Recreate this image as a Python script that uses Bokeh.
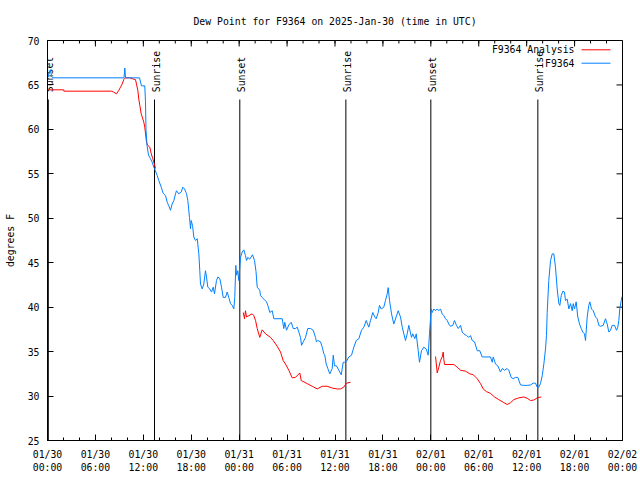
import math
import numpy as np
from bokeh.plotting import figure
from bokeh.models import Range1d, FixedTicker, Label
from bokeh.core.properties import value
from bokeh.embed import file_html
from bokeh.resources import INLINE

# ---------------- data ----------------
title_text = "Dew Point for F9364 on 2025-Jan-30 (time in UTC)"
y_axis_label = "degrees F"

x_ticks = [0, 6, 12, 18, 24, 30, 36, 42, 48, 54, 60, 66, 72]   # hours since 01/30 00:00 UTC
x_tick_labels = ["01/30\n00:00", "01/30\n06:00", "01/30\n12:00", "01/30\n18:00",
                 "01/31\n00:00", "01/31\n06:00", "01/31\n12:00", "01/31\n18:00",
                 "02/01\n00:00", "02/01\n06:00", "02/01\n12:00", "02/01\n18:00",
                 "02/02\n00:00"]
x_minor_ticks = list(range(0, 73, 2))
y_ticks = [25, 30, 35, 40, 45, 50, 55, 60, 65, 70]

event_names = ["Sunset", "Sunrise", "Sunset", "Sunrise", "Sunset", "Sunrise"]
event_hours = [0.1, 13.40, 24.08, 37.36, 48.0, 61.40]

series_names = ["F9364 Analysis", "F9364"]

# observed dew point (hours, degF)
obs_hours = [0.0, 0.19, 0.38, 0.50, 0.63, 9.58, 9.68, 9.77, 11.52, 11.77,
             12.18, 12.27, 12.33, 12.46, 12.65, 12.90, 13.11, 13.31, 13.40, 13.74,
             13.94, 14.24, 14.49, 14.78, 14.99, 15.19, 15.40, 15.61, 15.82, 16.03,
             16.15, 16.44, 16.74, 16.94, 17.16, 17.41, 17.57, 17.78, 17.91, 17.99,
             18.16, 18.32, 18.53, 18.75, 18.95, 19.07, 19.16, 19.37, 19.57, 19.78,
             19.91, 20.07, 20.32, 20.54, 20.75, 20.91, 21.16, 21.33, 21.58, 21.79,
             22.00, 22.29, 22.50, 22.70, 22.92, 23.13, 23.33, 23.45, 23.58, 23.67,
             23.83, 23.95, 24.08, 24.17, 24.38, 24.58, 24.79, 24.92, 25.08, 25.33,
             25.67, 25.92, 26.11, 26.26, 26.58, 26.67, 26.88, 27.09, 27.42, 27.59,
             27.84, 28.14, 28.34, 29.39, 29.59, 29.71, 29.93, 30.22, 30.52, 30.77,
             31.05, 31.27, 31.47, 31.68, 31.81, 32.02, 32.31, 32.59, 32.93, 33.27,
             33.56, 33.68, 33.85, 34.19, 34.40, 34.60, 34.72, 34.90, 35.10, 35.35,
             35.65, 35.78, 35.94, 36.19, 36.48, 36.78, 37.03, 37.19, 37.44, 37.73,
             38.07, 38.36, 38.66, 38.98, 39.32, 39.61, 39.91, 40.23, 40.45, 40.73,
             40.98, 41.16, 41.41, 41.57, 41.79, 42.11, 42.32, 42.54, 42.66, 42.83,
             43.08, 43.36, 43.66, 43.91, 44.20, 44.42, 44.62, 44.83, 45.04, 45.24,
             45.58, 45.74, 45.99, 46.17, 46.42, 46.58, 46.83, 47.12, 47.42, 47.67,
             47.83, 48.05, 48.17, 48.37, 48.59, 48.80, 49.00, 49.21, 49.42, 49.62,
             49.84, 50.05, 50.25, 50.46, 50.75, 50.96, 51.21, 51.43, 51.72, 51.93,
             52.13, 52.47, 52.76, 52.97, 53.18, 53.47, 53.81, 54.13, 54.43, 55.47,
             55.69, 55.81, 56.10, 56.39, 56.72, 56.94, 57.22, 57.56, 57.76, 58.06,
             58.31, 58.60, 58.89, 59.23, 59.64, 60.07, 60.48, 60.82, 61.11, 61.32,
             61.52, 61.73, 61.95, 62.15, 62.36, 62.48, 62.57, 62.77, 62.99, 63.20,
             63.40, 63.61, 63.82, 64.03, 64.15, 64.33, 64.53, 64.74, 64.86, 65.08,
             65.28, 65.49, 65.70, 65.83, 65.99, 66.20, 66.40, 66.62, 66.83, 67.03,
             67.24, 67.37, 67.58, 67.78, 67.91, 68.12, 68.33, 68.62, 68.83, 69.03,
             69.25, 69.58, 69.87, 70.08, 70.29, 70.50, 70.71, 71.00, 71.25, 71.41,
             71.54, 71.66, 71.84, 71.94]
obs_dewpt = [65.8, 66.3, 66.7, 66.0, 65.8, 65.8, 66.9, 65.8, 65.8, 64.9,
             64.9, 63.1, 60.0, 58.2, 57.1, 56.7, 56.3, 55.75, 55.6, 54.8,
             54.25, 53.5, 52.8, 52.55, 51.8, 51.4, 50.9, 51.6, 52.0, 52.75,
             53.1, 52.75, 52.95, 53.5, 53.3, 52.75, 52.0, 50.1, 48.8, 49.75,
             49.2, 47.9, 47.5, 47.7, 46.0, 44.1, 42.6, 42.05, 42.6, 44.1,
             43.4, 42.25, 42.05, 41.7, 42.25, 41.5, 43.0, 43.4, 43.2, 42.25,
             41.1, 41.1, 41.7, 41.1, 40.4, 40.2, 39.8, 41.1, 44.7, 43.6,
             44.1, 43.0, 44.5, 45.6, 46.2, 46.45, 45.8, 45.25, 45.6, 45.4,
             45.9, 45.25, 44.0, 42.25, 41.9, 41.3, 41.1, 40.9, 40.6, 40.2,
             39.4, 39.6, 38.7, 38.7, 37.6, 38.3, 37.4, 38.0, 38.3, 37.6,
             37.6, 37.75, 37.2, 36.6, 35.7, 36.1, 36.6, 37.6, 37.6, 37.4,
             36.6, 36.1, 36.25, 36.1, 35.5, 34.75, 34.6, 33.6, 33.1, 32.5,
             33.1, 34.6, 33.4, 33.4, 32.9, 32.4, 33.8, 33.8, 33.9, 34.4,
             34.6, 35.5, 36.25, 36.45, 37.4, 37.75, 38.5, 37.75, 38.5, 39.4,
             38.9, 38.7, 39.4, 40.2, 39.8, 40.0, 40.75, 41.5, 42.2, 40.75,
             39.25, 38.1, 38.9, 39.6, 38.9, 37.75, 37.0, 36.25, 37.0, 37.95,
             36.6, 37.0, 36.45, 37.0, 35.1, 33.8, 35.1, 35.5, 35.3, 34.6,
             37.0, 39.8, 39.4, 39.8, 39.6, 39.8, 39.6, 39.8, 39.25, 39.05,
             38.7, 38.5, 38.1, 37.85, 37.95, 38.5, 37.95, 37.6, 37.95, 37.2,
             37.0, 36.8, 36.6, 36.8, 36.25, 36.1, 35.1, 35.1, 34.4, 34.4,
             33.8, 34.4, 33.6, 33.4, 32.7, 33.1, 32.9, 33.1, 32.9, 32.1,
             31.95, 32.1, 32.1, 31.25, 31.2, 31.2, 31.25, 31.45, 31.45, 31.0,
             31.0, 31.4, 32.3, 33.6, 35.3, 36.8, 39.4, 43.0, 45.25, 46.0,
             46.0, 44.5, 42.05, 40.4, 40.2, 41.3, 41.8, 41.7, 40.75, 40.9,
             39.8, 40.4, 39.6, 40.4, 39.8, 40.6, 38.9, 38.1, 37.6, 37.2,
             37.0, 36.25, 38.9, 40.2, 40.6, 39.8, 39.6, 38.9, 38.7, 37.95,
             37.85, 37.95, 38.7, 38.1, 37.2, 37.4, 37.95, 37.95, 37.4, 37.75,
             38.5, 39.8, 40.75, 41.2]

NAN = float("nan")
# analysis dew point (hours, degF); NaN marks gaps in the analysis
ana_hours = [0.16, 2.04, 2.05, 8.01, 8.26, 8.64, 8.93, 9.14, 9.35, 9.55,
             9.77, 10.31, 10.61, 11.02, 11.14, 11.31, 11.43, 11.56, 11.73, 11.86,
             12.06, 12.18, 12.40, 12.56, 12.81, 12.99, 13.19, 13.31, 13.44, 13.52,
             NAN,
             24.51, 24.67, 24.79, 24.92, 25.21, 25.63, 25.83, 26.05, 26.26, 26.58,
             26.88, 27.30, 27.92, 28.26, 28.76, 29.18, 29.51, 29.80, 30.22, 30.64,
             31.05, 31.59, 31.77, 32.52, 33.15, 33.77, 34.40, 35.02, 35.65, 36.28,
             36.69, 37.10, 37.44, 37.94,
             NAN,
             48.59, 48.80, 49.00, 49.21, 49.42, 49.55, 49.62, 49.71, 50.88, 51.30,
             51.72, 52.34, 52.88, 53.31, 53.81, 54.22, 54.56, 54.97, 55.47, 55.97,
             56.51, 57.06, 57.56, 57.98, 58.39, 59.02, 59.64, 60.07, 60.48, 60.89,
             61.32, 61.82]
ana_dewpt = [64.45, 64.45, 64.3, 64.3, 64.2, 64.0, 64.4, 64.75, 65.1, 65.6,
             65.8, 65.8, 65.7, 65.6, 65.1, 64.4, 63.4, 62.7, 61.75, 61.4,
             60.8, 60.25, 58.55, 58.2, 58.0, 57.25, 56.7, 56.3, 55.9, 55.6,
             NAN,
             39.4, 38.7, 39.6, 38.9, 39.05, 39.25, 39.05, 38.5, 37.6, 36.6,
             37.45, 37.0, 36.6, 36.25, 35.6, 34.95, 34.0, 33.6, 32.9, 32.05,
             32.1, 32.6, 31.75, 31.4, 31.1, 30.8, 31.1, 31.1, 30.9, 30.8,
             30.8, 31.0, 31.45, 31.55,
             NAN,
             34.45, 32.6, 33.25, 34.0, 34.4, 34.95, 34.2, 33.55, 33.55, 33.25,
             32.9, 32.8, 32.5, 32.4, 31.95, 31.4, 30.8, 30.5, 30.3, 29.9,
             29.6, 29.3, 29.05, 29.25, 29.6, 29.8, 29.9, 29.75, 29.5, 29.55,
             29.8, 29.9]

# ---------------- styling / layout ----------------
FONT = "DejaVu Sans Mono"
FS = "9.8px"
RED = "#ff0000"
BLUE = "#0080ff"
X0, X1 = 0, 72
Y0, Y1 = 25, 70
W, H = 640, 480
ML, MR, MT, MB = 47, 18, 40, 40
FW, FH = W - ML - MR, H - MT - MB
TICK_MAJOR, TICK_MINOR = 6, 3


def px_x(px):
    return X0 + (px - ML) * (X1 - X0) / FW


def px_y(py):
    return Y1 - (py - MT) * (Y1 - Y0) / FH


p = figure(width=W, height=H, output_backend="svg", toolbar_location=None,
           x_range=Range1d(X0, X1), y_range=Range1d(Y0, Y1),
           min_border_left=ML, min_border_right=MR, min_border_top=MT, min_border_bottom=MB,
           title=title_text)
p.background_fill_color = "white"
p.border_fill_color = "white"
p.outline_line_color = "black"
p.outline_line_alpha = 1
p.outline_line_width = 1
p.xgrid.visible = False
p.ygrid.visible = False

p.title.text_font = FONT
p.title.text_font_size = FS
p.title.text_font_style = "normal"
p.title.align = "center"
p.title.text_color = "black"
p.title.standoff = 27


def style_axis(ax):
    ax.axis_line_color = "black"
    ax.major_tick_line_color = "black"
    ax.minor_tick_line_color = "black"
    ax.major_tick_in = TICK_MAJOR
    ax.major_tick_out = 0
    ax.minor_tick_in = TICK_MINOR
    ax.minor_tick_out = 0
    ax.major_label_text_font = FONT
    ax.major_label_text_font_size = FS
    ax.major_label_text_color = "black"
    ax.major_label_standoff = 8


p.xaxis.ticker = FixedTicker(ticks=x_ticks, minor_ticks=x_minor_ticks)
p.xaxis.major_label_overrides = {t: lab for t, lab in zip(x_ticks, x_tick_labels)}
p.yaxis.ticker = FixedTicker(ticks=y_ticks, minor_ticks=[])
style_axis(p.xaxis[0])
style_axis(p.yaxis[0])
p.yaxis.axis_label = y_axis_label
p.yaxis.axis_label_text_font = FONT
p.yaxis.axis_label_text_font_size = FS
p.yaxis.axis_label_text_font_style = "normal"
p.yaxis.axis_label_text_color = "black"
p.yaxis.axis_label_standoff = 9

# mirrored ticks on the top and right borders (gnuplot style)
top_major_y1 = px_y(MT + TICK_MAJOR)
top_minor_y1 = px_y(MT + TICK_MINOR)
p.segment(x0=x_ticks, x1=x_ticks, y0=[Y1] * len(x_ticks), y1=[top_major_y1] * len(x_ticks),
          line_color="black", line_width=1)
p.segment(x0=x_minor_ticks, x1=x_minor_ticks, y0=[Y1] * len(x_minor_ticks),
          y1=[top_minor_y1] * len(x_minor_ticks), line_color="black", line_width=1)
right_x1 = px_x(ML + FW - TICK_MAJOR)
p.segment(x0=[X1] * len(y_ticks), x1=[right_x1] * len(y_ticks), y0=y_ticks, y1=y_ticks,
          line_color="black", line_width=1)

# sunrise / sunset markers
p.segment(x0=event_hours, x1=event_hours, y0=[Y0] * len(event_hours),
          y1=[px_y(99)] * len(event_hours), line_color="black", line_width=1)
p.text(x=event_hours, y=[px_y(91.7)] * len(event_hours), text=event_names,
       angle=math.pi / 2, text_align="left", text_baseline="middle", x_offset=1.5,
       text_font=value(FONT), text_font_size=value(FS), text_color="black")

# series
p.line(np.array(ana_hours), np.array(ana_dewpt), line_color=RED, line_width=1)
p.line(np.array(obs_hours), np.array(obs_dewpt), line_color=BLUE, line_width=1)

# gnuplot-style key (text right, sample line to its right)
for i, (name, col) in enumerate(zip(series_names, [RED, BLUE])):
    yy = px_y(49.3 + 13.4 * i)
    p.add_layout(Label(x=px_x(574), y=yy, text=name, text_align="right",
                       text_baseline="middle", text_font=FONT, text_font_size=FS,
                       text_color="black"))
    p.line([px_x(581), px_x(610)], [yy, yy], line_color=col, line_width=1)

open("out.html", "w").write(file_html(p, INLINE))
